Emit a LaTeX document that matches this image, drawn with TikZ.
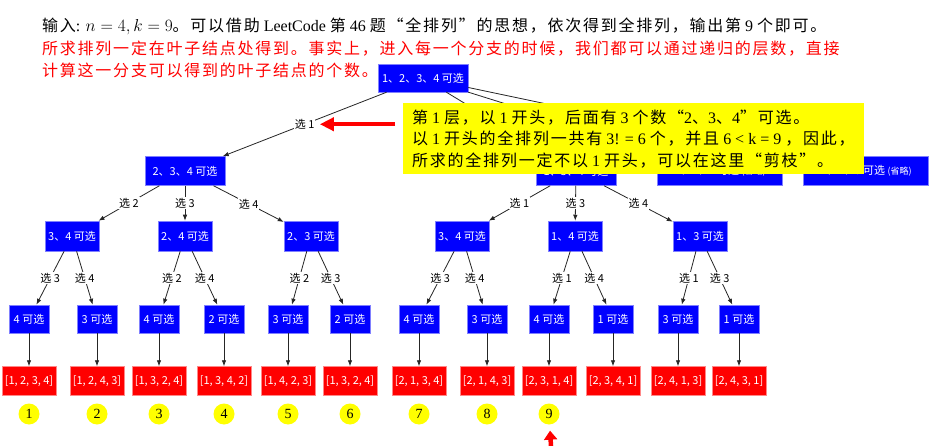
\documentclass[tikz,border=0pt]{standalone}
\usepackage{fontspec}
\setmainfont{Liberation Serif}
\newfontfamily\cjk{Noto Sans CJK SC}
\newfontfamily\cjkwide[LetterSpace=11]{Noto Sans CJK SC}
\usetikzlibrary{arrows.meta}
\definecolor{pickblue}{HTML}{0000FF}
\definecolor{pickedge}{HTML}{8080FF}
\definecolor{permred} {HTML}{FF0000}
\definecolor{permedge}{HTML}{FF8888}
\definecolor{marker}  {HTML}{FFFF00}
\definecolor{wire}    {HTML}{262626}
\newcommand{\zh}[1]{{\cjkwide #1}}
\newcommand{\nodefont}{\cjk\fontsize{11}{13}\selectfont}
\newcommand{\omitted}{{\fontsize{9}{11}\selectfont(省略)}}
\tikzset{
  pick/.style={draw=pickedge,line width=0.5pt,fill=pickblue,text=white,
               font=\nodefont,inner sep=0pt,minimum height=29pt},
  perm/.style={draw=permedge,line width=0.5pt,fill=permred,text=white,
               font=\nodefont,inner sep=0pt,minimum width=54pt,minimum height=29pt},
  rank/.style={circle,fill=marker,inner sep=0pt,minimum size=21pt,
               font=\fontsize{14}{16}\selectfont},
  choice/.style={fill=white,inner sep=1pt,font=\nodefont},
  branch/.style={draw=wire,line width=0.8pt,-{Latex[length=6pt,width=4.5pt]}},
  hint/.style={draw=permred,line width=4.5pt,-{Triangle[length=14pt,width=13pt]}},
  note/.style={fill=marker,align=left,inner xsep=9pt,inner ysep=0pt,
               minimum height=71pt,font=\fontsize{16}{21.5}\selectfont},
}

\begin{document}
\begin{tikzpicture}[x=1pt,y=-1pt]
  \path[use as bounding box,fill=white] (0,0) rectangle (947,446);

  % problem statement
  \node[anchor=west,inner sep=0pt,font=\fontsize{16}{18}\selectfont] (intro) at (42,26)
    {\zh{输入}: $n = 4, k = 9$\zh{。可以借助} LeetCode \zh{第} 46 \zh{题“全排列”的思想，依次得到全排列，输出第} 9 \zh{个即可。}};
  \node[anchor=west,inner sep=0pt,text=permred,font=\fontsize{16}{18}\selectfont] (goal1) at (42,49)
    {\zh{所求排列一定在叶子结点处得到。事实上，进入每一个分支的时候，我们都可以通过递归的层数，直接}};
  \node[anchor=west,inner sep=0pt,text=permred,font=\fontsize{16}{18}\selectfont] (goal2) at (42,70)
    {\zh{计算这一分支可以得到的叶子结点的个数。}};

  % first levels
  \node[pick,minimum width=90pt,minimum height=28pt] (root) at (423,78) {1、2、3、4 可选};
  \node[pick,minimum width=80pt]  (n234) at (185,171) {2、3、4 可选};
  \node[pick,minimum width=80pt]  (n134) at (576,171) {1、3、4 可选};
  \node[pick,minimum width=125pt] (n124) at (720,171) {1、2、4 可选 \omitted};
  \node[pick,minimum width=125pt] (n123) at (866,171) {1、2、3 可选 \omitted};

  \node[pick,minimum width=54pt,minimum height=30pt] (a34) at (72,236)  {3、4 可选};
  \node[pick,minimum width=54pt,minimum height=30pt] (a24) at (185,236) {2、4 可选};
  \node[pick,minimum width=54pt,minimum height=30pt] (a23) at (311,236) {2、3 可选};
  \node[pick,minimum width=54pt,minimum height=30pt] (b34) at (462,236) {3、4 可选};
  \node[pick,minimum width=54pt,minimum height=30pt] (b14) at (575,236) {1、4 可选};
  \node[pick,minimum width=54pt,minimum height=30pt] (b13) at (700,236) {1、3 可选};

  \draw[branch] (root) -- node[choice] (pick1) {选 1} (n234);
  \draw[branch] (root) -- (n134);
  \draw[branch] (root) -- (n124);
  \draw[branch] (root) -- (n123);

  \draw[branch] (n234) -- node[choice] {选 2} (a34);
  \draw[branch] (n234) -- node[choice] {选 3} (a24);
  \draw[branch] (n234) -- node[choice] {选 4} (a23);
  \draw[branch] (n134) -- node[choice] {选 1} (b34);
  \draw[branch] (n134) -- node[choice] {选 3} (b14);
  \draw[branch] (n134) -- node[choice] {选 4} (b13);

  % last choice and leaves
  \foreach \i/\x/\c/\p in {{1/29/4/1, 2, 3, 4},{2/97/3/1, 2, 4, 3},{3/159/4/1, 3, 2, 4},
      {4/224/2/1, 3, 4, 2},{5/288/3/1, 4, 2, 3},{6/350/2/1, 3, 2, 4},
      {7/419/4/2, 1, 3, 4},{8/487/3/2, 1, 4, 3},{9/549/4/2, 3, 1, 4},
      {10/613/1/2, 3, 4, 1},{11/678/3/2, 4, 1, 3},{12/739/1/2, 4, 3, 1}}{
    \node[pick,minimum width=40pt,minimum height=28pt] (c\i) at (\x,319) {\c\ 可选};
    \node[perm] (leaf\i) at (\x,381) {[\p]};
    \draw[branch] (c\i) -- (leaf\i);
    \ifnum\i<10 \node[rank] (rank\i) at (\x,414) {\i}; \fi
  }

  \foreach \pa/\l/\r/\kl/\kr in {a34/1/2/3/4,a24/3/4/2/4,a23/5/6/2/3,
      b34/7/8/3/4,b14/9/10/1/4,b13/11/12/1/3}{
    \draw[branch] (\pa) -- node[choice] {选 \kl} (c\l);
    \draw[branch] (\pa) -- node[choice] {选 \kr} (c\r);
  }

  % pruning remark
  \node[note,anchor=north west] (note) at (403,103)
    {\zh{第} 1 \zh{层，以} 1 \zh{开头，后面有} 3 \zh{个数“}2\zh{、}3\zh{、}4\zh{”可选。}\\
     \zh{以} 1 \zh{开头的全排列一共有} 3! = 6 \zh{个，并且} 6 < k = 9 \zh{，因此，}\\
     \zh{所求的全排列一定不以} 1 \zh{开头，可以在这里“剪枝”。}};
  \draw[hint,shorten <=8pt,shorten >=4pt] (note.west |- pick1) -- (pick1.east);

  \coordinate (tail) at (551,446);
  \draw[hint,-{Triangle[length=9pt,width=13pt]},shorten >=6pt] (tail) -- (rank9);
\end{tikzpicture}
\end{document}
